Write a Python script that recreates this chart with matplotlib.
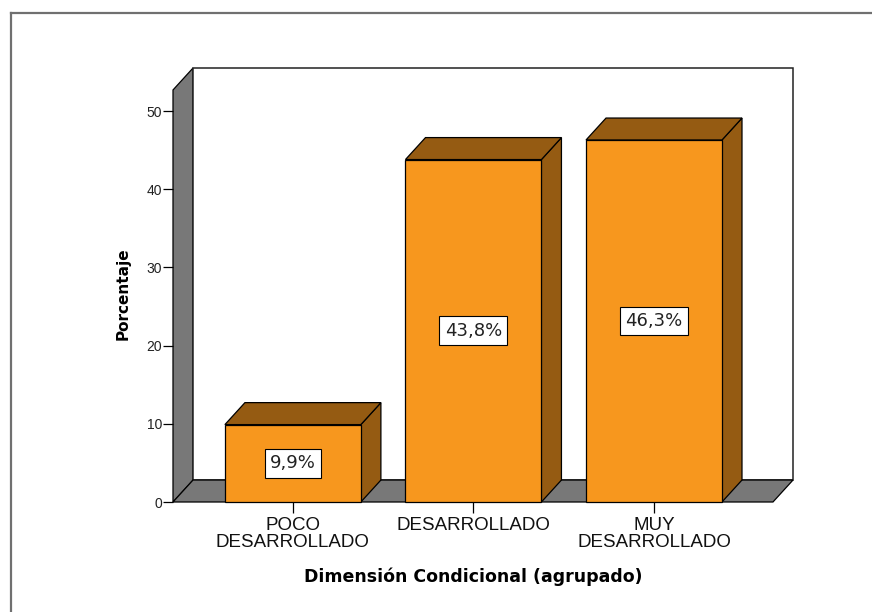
import numpy as np
import matplotlib.pyplot as plt
from matplotlib.patches import Polygon, Rectangle

# data
categories = ['POCO\nDESARROLLADO', 'DESARROLLADO', 'MUY\nDESARROLLADO']
values = [9.9, 43.8, 46.3]
value_labels = ['9,9%', '43,8%', '46,3%']
yticks = [0, 10, 20, 30, 40, 50]

# colours
front_col = '#F7971E'
dark_col = '#955B12'
wall_col = '#787878'

W, H, DPI = 872, 612, 100
fig = plt.figure(figsize=(W / DPI, H / DPI), dpi=DPI)

# axes placed in pixels (front plane from x=173, bottom y=502)
ax_l, ax_r, ax_b, ax_t = 173, 793, 502, 68
ax = fig.add_axes([ax_l / W, (H - ax_b) / H, (ax_r - ax_l) / W, (ax_b - ax_t) / H])

x0, x1 = -0.664, 2.659          # front floor extent
dx, dy = 0.111, 2.81            # 3d depth offset in data units
top = 52.7                      # front top of walls
ax.set_xlim(x0, x1 + dx)
ax.set_ylim(0, top + dy)
bar_w = 0.753

# side wall
ax.add_patch(Polygon([(x0, 0), (x0, top), (x0 + dx, top + dy), (x0 + dx, dy)],
                     closed=True, fc=wall_col, ec='black', lw=0.9, clip_on=False))
# back wall
ax.add_patch(Rectangle((x0 + dx, dy), x1 - x0, top, fc='white', ec='#222222',
                       lw=1.1, clip_on=False))
# floor
ax.add_patch(Polygon([(x0, 0), (x1, 0), (x1 + dx, dy), (x0 + dx, dy)],
                     closed=True, fc=wall_col, ec='black', lw=0.9, clip_on=False))

for i, v in enumerate(values):
    l, r = i - bar_w / 2, i + bar_w / 2
    ax.add_patch(Polygon([(r, 0), (r + dx, dy), (r + dx, v + dy), (r, v)],
                         closed=True, fc=dark_col, ec='black', lw=0.9, clip_on=False))
    ax.add_patch(Polygon([(l, v), (r, v), (r + dx, v + dy), (l + dx, v + dy)],
                         closed=True, fc=dark_col, ec='black', lw=0.9, clip_on=False))
    ax.bar(i, v, width=bar_w, color=front_col, edgecolor='black', linewidth=0.9,
           clip_on=False)
    ax.text(i, v / 2, value_labels[i], ha='center', va='center', fontsize=13,
            family='DejaVu Sans', color='#222222',
            bbox=dict(boxstyle='square,pad=0.3', fc='white', ec='black', lw=0.8))

for s in ['top', 'right', 'bottom', 'left']:
    ax.spines[s].set_visible(False)
ax.set_yticks(yticks)
ax.set_yticklabels([str(t) for t in yticks], family='Liberation Sans', fontsize=10,
                   color='#222222')
ax.set_xticks(range(len(categories)))
ax.set_xticklabels(categories, family='Liberation Sans', fontsize=13.5,
                   linespacing=1.0, color='#111111')
ax.tick_params(axis='y', length=7, width=0.9, pad=1)
ax.tick_params(axis='x', length=8, width=0.9, pad=3)

fig.text(473 / W, 1 - 577 / H, 'Dimensión Condicional (agrupado)', ha='center',
         va='center', fontsize=12.5, fontweight='bold', family='DejaVu Sans')
fig.text(123 / W, 1 - 294 / H, 'Porcentaje', ha='center', va='center',
         rotation=90, fontsize=11, fontweight='bold', family='DejaVu Sans')

# outer chart frame (top and left edges)
fig.add_artist(plt.Line2D([11 / W, 1], [1 - 13 / H, 1 - 13 / H], color='#707070',
                          lw=1.6, transform=fig.transFigure))
fig.add_artist(plt.Line2D([11 / W, 11 / W], [0, 1 - 13 / H], color='#707070',
                          lw=1.6, transform=fig.transFigure))

fig.savefig('out.png', dpi=DPI)
